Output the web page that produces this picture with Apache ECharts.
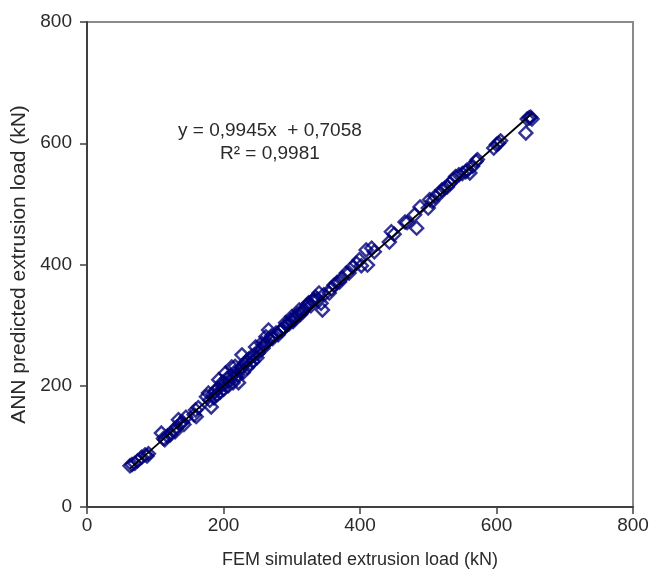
<!DOCTYPE html>
<html>
<head>
<meta charset="utf-8">
<script src="https://cdn.jsdelivr.net/npm/echarts@6/dist/echarts.min.js"></script>
<style>html,body{margin:0;padding:0;background:#fff}#c{width:662px;height:574px}</style>
</head>
<body>
<div id="c"></div>
<script>
// FEM simulated load (x) and ANN predicted load (y)
const fem = [63,66,70,74,80,85,88,90,
109,112,114,118,122,126,129,132,134,137,140,142,145,
157,159,160,163,
175,178,180,182,184,186,188,190,192,193,195,197,199,200,202,203,205,207,209,211,212,214,216,217,219,221,222,224,226,227,229,231,233,235,237,239,241,243,245,247,249,251,253,256,258,260,262,264,266,268,270,272,
277,280,283,286,288,291,293,296,298,300,302,304,306,308,311,313,316,318,321,323,325,328,330,333,335,338,340,343,345,347,
355,358,362,366,370,374,380,384,389,395,399,402,409,411,417,421,
443,446,450,466,469,480,483,488,
500,502,506,510,517,520,524,528,532,537,540,545,550,555,557,561,565,
570,572,596,600,603,606,
643,645,648,650,652];
const ann = [68,70,72,76,82,86,84,88,
122,113,111,117,119,126,124,132,144,138,140,136,148,
152,160,149,164,
182,188,176,165,186,180,192,185,196,210,189,200,206,194,203,221,212,200,208,216,231,205,222,232,213,218,205,226,230,251,222,236,240,230,244,236,248,240,250,264,246,254,260,270,262,268,281,272,292,276,282,278,
287,284,290,292,296,304,300,302,308,314,306,310,314,318,325,318,322,326,330,334,337,332,340,342,346,343,353,336,325,350,
353,360,366,370,371,378,386,386,396,402,408,398,424,399,427,421,
437,454,450,470,469,482,460,495,
493,507,504,512,517,523,526,528,534,540,545,548,550,553,556,551,562,
570,573,592,598,600,604,
617,640,642,643,640];
const xTicks = [0, 200, 400, 600, 800];
const yTicks = [0, 200, 400, 600, 800];
const trendSlope = 0.9945, trendIntercept = 0.7058;
const eqText = 'y = 0,9945x  + 0,7058';
const r2Text = 'R² = 0,9981';

const points = fem.map((v, i) => [v, ann[i]]);
const xmin = Math.min(...fem), xmax = Math.max(...fem);
const trend = [[xmin, trendSlope * xmin + trendIntercept], [xmax, trendSlope * xmax + trendIntercept]];

const chart = echarts.init(document.getElementById('c'), null, {renderer: 'canvas'});
const font = 'Liberation Sans, Arial, sans-serif';
chart.setOption({
  animation: false,
  backgroundColor: '#fff',
  grid: {left: 87, right: 29, top: 22, bottom: 67, show: true, borderColor: '#8a8a8a', borderWidth: 2, backgroundColor: 'transparent'},
  xAxis: {
    type: 'value', min: xTicks[0], max: xTicks[xTicks.length - 1], interval: 200,
    name: 'FEM simulated extrusion load (kN)', nameLocation: 'middle', nameGap: 44,
    nameTextStyle: {fontFamily: font, fontSize: 18, color: '#2a2a2a'},
    axisLine: {show: true, lineStyle: {color: '#404040', width: 2}},
    axisTick: {show: true, inside: false, length: 7, lineStyle: {color: '#404040', width: 1.5}},
    axisLabel: {fontFamily: font, fontSize: 19, color: '#2a2a2a', margin: 9},
    splitLine: {show: false}
  },
  yAxis: {
    type: 'value', min: yTicks[0], max: yTicks[yTicks.length - 1], interval: 200,
    name: 'ANN predicted extrusion load (kN)', nameLocation: 'middle', nameGap: 55,
    nameTextStyle: {fontFamily: font, fontSize: 21, color: '#2a2a2a'},
    axisLine: {show: true, lineStyle: {color: '#404040', width: 2}},
    axisTick: {show: true, inside: false, length: 7, lineStyle: {color: '#404040', width: 1.5}},
    axisLabel: {fontFamily: font, fontSize: 19, color: '#2a2a2a', margin: 15},
    splitLine: {show: false}
  },
  series: [
    {
      type: 'scatter', data: points, symbol: 'diamond', symbolSize: 13,
      itemStyle: {color: 'rgba(255,255,255,0)', borderColor: '#00007a', borderWidth: 2.4},
      z: 2
    },
    {
      type: 'line', data: trend, symbol: 'none', lineStyle: {color: '#000', width: 1.8}, z: 3
    }
  ],
  graphic: [
    {type: 'text', left: 178, top: 121, style: {text: eqText, font: '19px ' + font, fill: '#2a2a2a'}},
    {type: 'text', left: 220, top: 144, style: {text: r2Text, font: '19px ' + font, fill: '#2a2a2a'}}
  ]
});
</script>
</body>
</html>
